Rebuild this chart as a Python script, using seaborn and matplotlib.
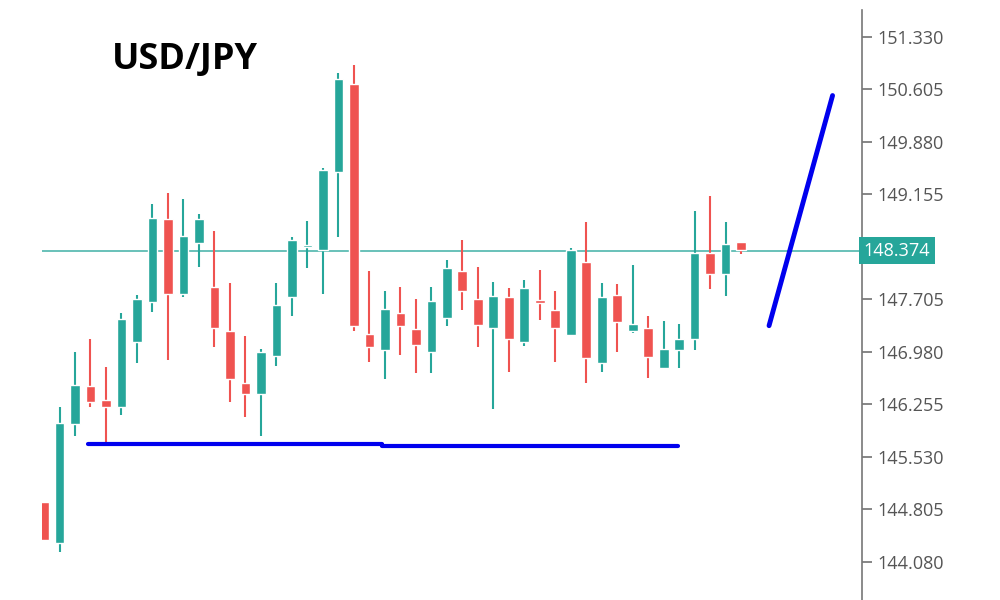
import matplotlib
matplotlib.use("Agg")
import matplotlib.pyplot as plt
import seaborn as sns
import numpy as np
import pandas as pd

opens  = [144.91,144.34,145.98,146.50,146.32,146.22,147.12,147.67,148.82,147.78,148.48,147.88,147.27,146.55,146.40,146.92,147.74,148.43,148.38,149.47,150.68,147.23,147.01,147.52,147.30,146.97,147.45,148.09,147.71,147.31,147.73,147.12,147.67,147.55,147.21,148.22,146.83,147.77,147.26,147.31,146.76,147.01,147.15,148.35,148.06,148.49]
highs  = [144.91,146.22,146.97,147.16,146.77,147.52,147.77,149.02,149.17,149.09,148.89,148.65,147.93,147.20,147.02,147.93,148.57,148.79,149.52,150.83,150.94,148.10,147.82,147.88,147.71,147.88,148.25,148.53,148.15,147.94,147.86,147.97,148.11,147.82,148.42,148.77,147.93,147.91,148.18,147.48,147.41,147.37,148.93,149.13,148.77,148.50]
lows   = [144.38,144.21,145.81,146.22,145.70,146.11,146.83,147.53,146.87,147.73,148.15,147.05,146.29,146.08,145.82,146.79,147.48,148.14,147.78,148.57,147.26,146.84,146.61,146.94,146.68,146.69,147.33,147.55,147.05,146.19,146.70,147.06,147.42,146.84,147.20,146.55,146.70,146.97,147.24,146.62,146.74,146.76,147.01,147.85,147.75,148.33]
closes = [144.38,145.99,146.52,146.29,146.22,147.43,147.71,148.83,147.78,148.58,148.82,147.31,146.61,146.40,146.98,147.63,148.53,148.46,149.49,150.75,147.33,147.05,147.57,147.33,147.08,147.68,148.14,147.82,147.35,147.75,147.15,147.86,147.66,147.31,148.39,146.90,147.73,147.39,147.37,146.91,147.02,147.16,148.35,148.06,148.47,148.39]

current_price = 148.374
support_x = [2.84, 21.8, 21.8, 40.9]
support_y = [145.71, 145.71, 145.68, 145.68]
trend_x = [46.8, 50.9]
trend_y = [147.34, 150.52]
tick_values = [151.330,150.605,149.880,149.155,148.430,147.705,146.980,146.255,145.530,144.805,144.080]
tick_labels = ["151.330","150.605","149.880","149.155","","147.705","146.980","146.255","145.530","144.805","144.080"]

GREEN = "#26a69a"
RED = "#ef5350"

sns.set_theme(style="white")
plt.rcParams['font.family'] = ['Open Sans', 'DejaVu Sans']

fig = plt.figure(figsize=(10, 6), dpi=100)
ax = fig.add_axes([0.042, 0.0, 0.82, 1.0])

df = pd.DataFrame({"o": opens, "h": highs, "l": lows, "c": closes})
df["i"] = np.arange(len(df))
up = df["c"] >= df["o"]
cols = np.where(up, GREEN, RED)

ax.vlines(df["i"], df["l"], df["h"], colors=cols, linewidth=1.5, zorder=2)
body_bottom = np.minimum(df["o"], df["c"])
body_h = np.maximum(np.abs(df["c"] - df["o"]), 0.03)
ax.bar(df["i"], body_h, bottom=body_bottom, width=0.62, color=cols, zorder=3)

ax.axhline(current_price, color=GREEN, alpha=0.75, linewidth=1.3, zorder=1)

sns.lineplot(x=support_x, y=support_y, ax=ax, color="#0000ee", linewidth=3, sort=False, estimator=None)
sns.lineplot(x=trend_x, y=trend_y, ax=ax, color="#0000ee", linewidth=3.5, sort=False, estimator=None)

ax.set_xlim(-0.13, 52.8)
ax.set_ylim(143.55, 151.84)
ax.set_xticks([])
for s in ["top", "left", "bottom"]:
    ax.spines[s].set_visible(False)
ax.spines["right"].set_color("#777777")
ax.spines["right"].set_linewidth(1.2)
ax.spines["right"].set_bounds(143.55, 151.70)
ax.yaxis.tick_right()
ax.set_yticks(tick_values)
ax.set_yticklabels(tick_labels)
ax.tick_params(axis="y", direction="out", length=7, color="#777777",
               labelsize=13, labelcolor="#555555", right=True, left=False, pad=4)

ax.text(1.002, current_price, f"{current_price:.3f}", transform=ax.get_yaxis_transform(),
        va="center", ha="left", fontsize=13, color="white",
        bbox=dict(boxstyle="square,pad=0.25", facecolor=GREEN, edgecolor="none"))

fig.text(0.112, 0.90, "USD/JPY", fontsize=26, fontweight="bold", color="black", va="center")

fig.savefig("out.png", dpi=100, facecolor="white")
